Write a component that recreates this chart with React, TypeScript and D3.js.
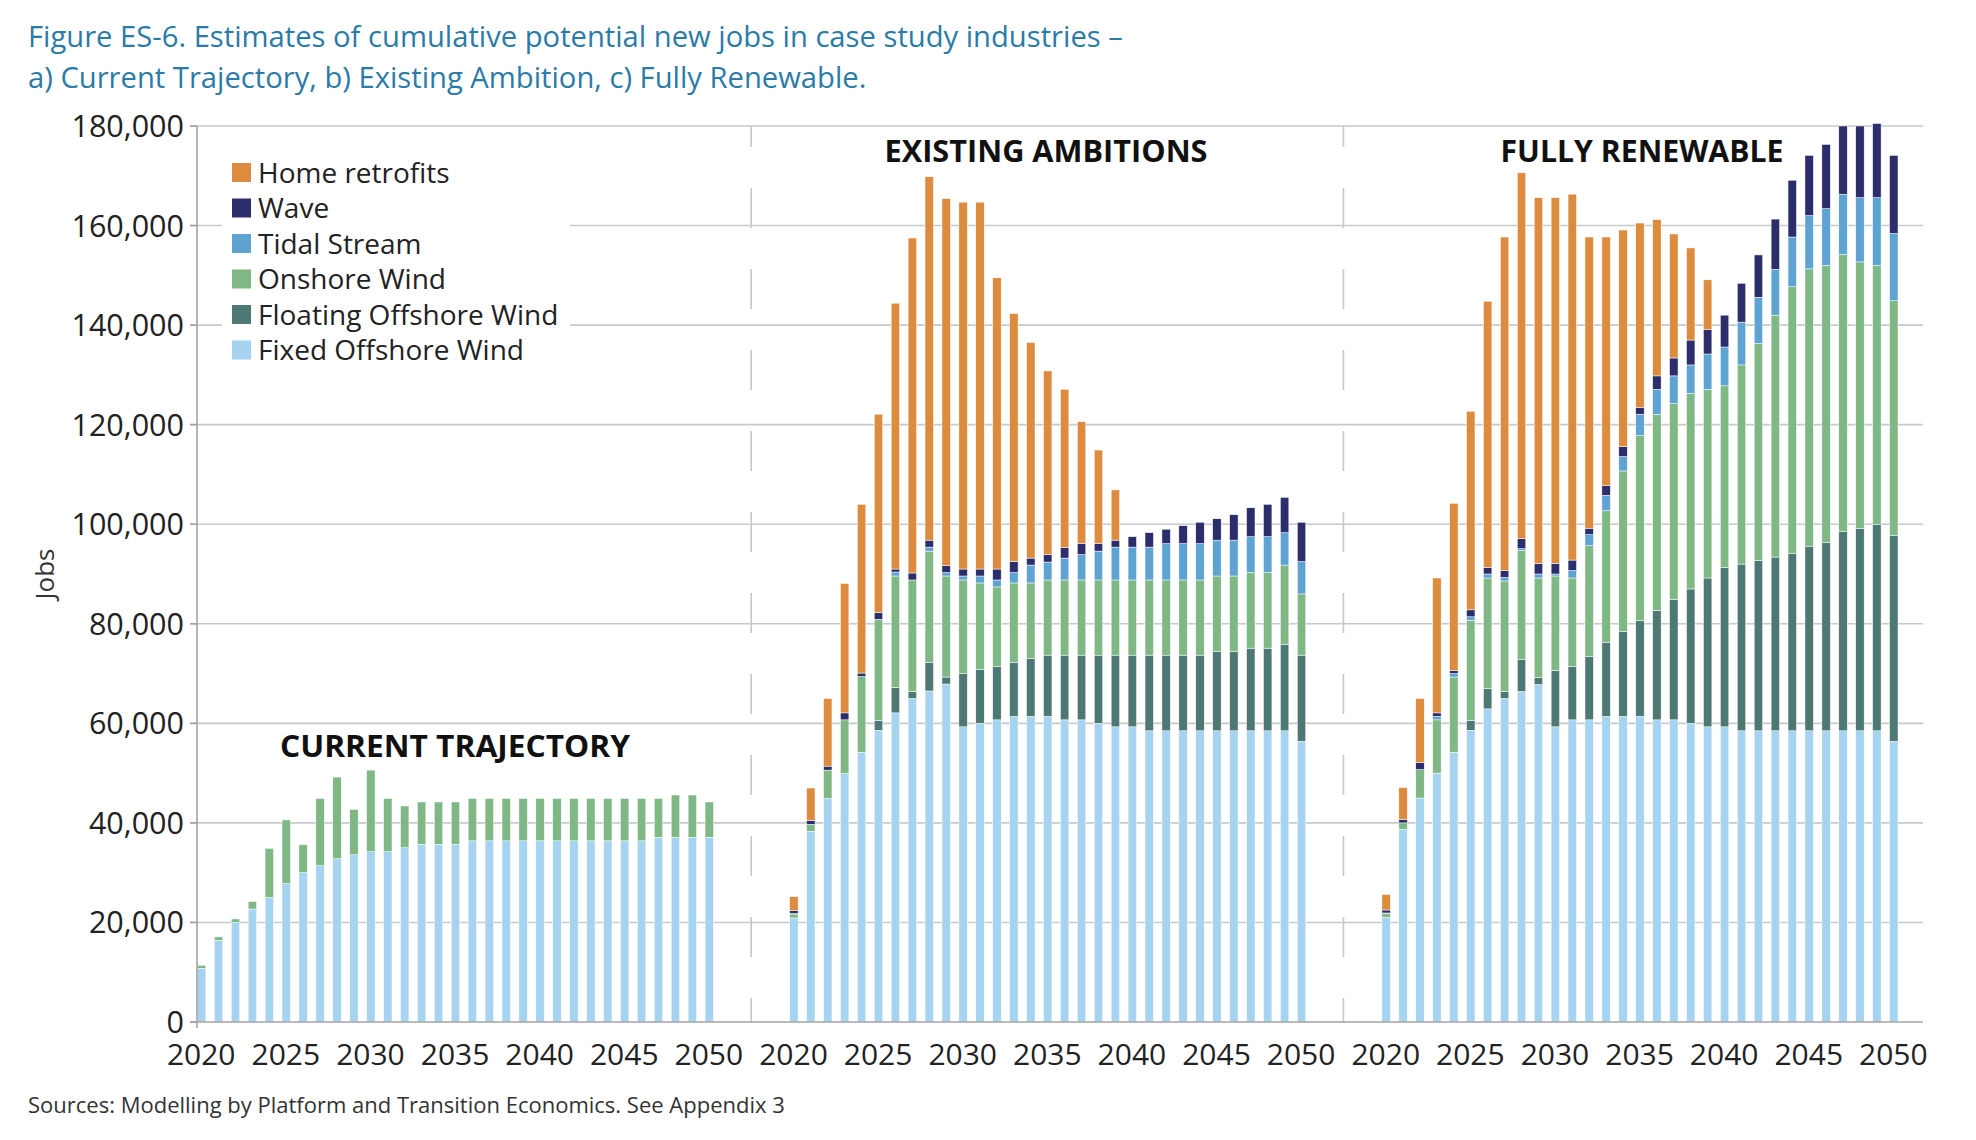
import { useEffect, useRef } from 'react';
import * as d3 from 'd3';

// Categories
const years = d3.range(2020, 2051);
const yearTicks = [2020, 2025, 2030, 2035, 2040, 2045, 2050];
const jobTicks = [0, 20000, 40000, 60000, 80000, 100000, 120000, 140000, 160000, 180000];

// Series, bottom of the stack first
const seriesNames = [
  'Fixed Offshore Wind',
  'Floating Offshore Wind',
  'Onshore Wind',
  'Tidal Stream',
  'Wave',
  'Home retrofits',
];
const seriesColors = ['#a6d3ef', '#4e7874', '#7fb785', '#5fa3d2', '#2c2e6c', '#dd8b3e'];

// a) Current trajectory
const currentFixed = [
  10800, 16400, 20000, 22700, 25000, 27800, 30000, 31400, 32800, 33600, 34200, 34200, 35000, 35700, 35700,
  35700, 36400, 36400, 36400, 36400, 36400, 36400, 36400, 36400, 36400, 36400, 36400, 37100, 37100, 37100, 37100,
];
const currentOnshore = [
  600, 700, 700, 1500, 9900, 12800, 5600, 13500, 16400, 9100, 16400, 10700, 8400, 8500, 8500,
  8500, 8500, 8500, 8500, 8500, 8500, 8500, 8500, 8500, 8500, 8500, 8500, 7800, 8500, 8500, 7100,
];

// b) Existing ambitions
const existingFixed = [
  20900, 38300, 44900, 49900, 54200, 58600, 62100, 65000, 66500, 67900, 59300, 60000, 60700, 61400, 61400,
  61400, 60700, 60700, 60000, 59300, 59300, 58500, 58500, 58500, 58500, 58500, 58500, 58500, 58500, 58500, 56400,
];
const existingFloating = [
  0, 0, 0, 0, 0, 2000, 5100, 1400, 5700, 1400, 10700, 10800, 10700, 10800, 11600,
  12300, 13000, 13000, 13700, 14400, 14400, 15200, 15200, 15200, 15200, 15900, 15900, 16600, 16600, 17400, 17300,
];
const existingOnshore = [
  800, 1400, 5700, 10800, 15200, 20300, 22400, 22400, 22400, 20300, 18800, 17400, 16000, 16000, 15200,
  15100, 15100, 15100, 15100, 15100, 15100, 15100, 15100, 15100, 15100, 15200, 15200, 15200, 15200, 15900, 12300,
];
const existingTidal = [
  100, 0, 0, 0, 0, 0, 800, 0, 800, 700, 800, 1400, 1400, 2100, 3600,
  3600, 4400, 5100, 5800, 6600, 6600, 6600, 7300, 7300, 7300, 7200, 7200, 7200, 7200, 6500, 6500,
];
const existingWave = [
  600, 800, 800, 1400, 700, 1400, 600, 1400, 1400, 1400, 1400, 1400, 2200, 2200, 1400,
  1500, 2100, 2200, 1500, 1400, 2100, 2900, 2900, 3600, 4300, 4300, 5100, 5800, 6500, 7100, 7900,
];
const existingHome = [
  2800, 6500, 13600, 26000, 33900, 39800, 53400, 67300, 73000, 73700, 73700, 73700, 58500, 49800, 43300,
  36900, 31800, 24500, 18800, 10100, 0, 0, 0, 0, 0, 0, 0, 0, 0, 0, 0,
];

// c) Fully renewable
const renewableFixed = [
  21000, 38700, 45000, 50000, 54200, 58600, 62900, 65000, 66400, 67800, 59300, 60700, 60700, 61400, 61400,
  61400, 60700, 60700, 60000, 59300, 59300, 58500, 58500, 58500, 58500, 58500, 58500, 58500, 58500, 58500, 56400,
];
const renewableFloating = [
  0, 0, 0, 0, 0, 2000, 4100, 1400, 6400, 1400, 11300, 10700, 12700, 14900, 17100,
  19200, 22000, 24200, 27000, 29900, 32000, 33500, 34200, 34900, 35600, 37100, 37800, 40000, 40600, 41400, 41300,
];
const renewableOnshore = [
  800, 1300, 5700, 10700, 15100, 20100, 22200, 22200, 21900, 20000, 19000, 17800, 22300, 26400, 32200,
  37200, 39400, 39300, 39300, 37900, 36500, 40000, 43600, 48600, 53600, 55700, 55700, 55700, 53600, 52100, 47200,
];
const renewableTidal = [
  100, 0, 0, 700, 700, 700, 800, 700, 400, 800, 400, 1500, 2200, 3100, 2900,
  4300, 5000, 5600, 5700, 7100, 7800, 8600, 9300, 9200, 10000, 10700, 11400, 12100, 12900, 13600, 13500,
];
const renewableWave = [
  600, 700, 1400, 700, 600, 1400, 1300, 1400, 2000, 2100, 2100, 2100, 1300, 2000, 2000,
  1300, 2700, 3600, 5000, 4900, 6400, 7800, 8500, 10100, 11400, 12100, 12900, 13700, 14400, 14900, 15700,
];
const renewableHome = [
  3100, 6400, 12900, 27100, 33600, 39900, 53500, 67000, 73500, 73500, 73500, 73500, 58500, 49900, 43500,
  37100, 31400, 24900, 18500, 10000, 0, 0, 0, 0, 0, 0, 0, 0, 0, 0, 0,
];

const scenarios = [
  { id: 'current', series: [currentFixed, [], currentOnshore, [], [], []] },
  {
    id: 'existing',
    series: [existingFixed, existingFloating, existingOnshore, existingTidal, existingWave, existingHome],
  },
  {
    id: 'renewable',
    series: [renewableFixed, renewableFloating, renewableOnshore, renewableTidal, renewableWave, renewableHome],
  },
];

const panelTitles = [
  { text: 'CURRENT TRAJECTORY', x: 455, y: 757, w: 350 },
  { text: 'EXISTING AMBITIONS', x: 1046, y: 162, w: 323 },
  { text: 'FULLY RENEWABLE', x: 1642, y: 162, w: 283 },
];

const FONT = '"Open Sans", sans-serif';

const App = () => {
  const chartRef = useRef<SVGSVGElement>(null);

  useEffect(() => {
    if (!chartRef.current) return;
    const svg = d3.select(chartRef.current);
    svg.selectAll('*').remove();

    const width = 1976;
    const height = 1140;
    const left = 197;
    const right = 1923;
    const top = 126;
    const bottom = 1022;

    svg.attr('width', width).attr('height', height).style('font-family', FONT);
    svg.append('rect').attr('width', width).attr('height', height).attr('fill', '#fff');

    // Table for the stack: one row per category
    const rows = scenarios.flatMap((s) =>
      years.map((yr, i) => {
        const row: Record<string, number | string> = { cat: `${s.id}-${yr}` };
        seriesNames.forEach((name, j) => {
          row[name] = s.series[j][i] ?? 0;
        });
        return row;
      }),
    );

    // Category domain with empty slots between the scenarios
    const domain: string[] = [];
    scenarios.forEach((s, si) => {
      if (si > 0) for (let g = 0; g < 4; g++) domain.push(`gap-${si}-${g}`);
      years.forEach((yr) => domain.push(`${s.id}-${yr}`));
    });
    domain.push('gap-end');

    const x = d3.scaleBand().domain(domain).range([left, right]);
    const barW = x.bandwidth() * 0.5;
    const y = d3.scaleLinear().domain([0, 180000]).range([bottom, top]);

    // Gridlines
    svg
      .append('g')
      .selectAll('line')
      .data(jobTicks.filter((d) => d > 0))
      .join('line')
      .attr('x1', left - 7)
      .attr('x2', right)
      .attr('y1', (d) => y(d))
      .attr('y2', (d) => y(d))
      .attr('stroke', '#c6caca')
      .attr('stroke-width', 1.6);

    // Legend backdrop hides the gridlines
    svg.append('rect').attr('x', 222).attr('y', 150).attr('width', 348).attr('height', 222).attr('fill', '#fff');

    // Dashed separators between scenarios
    const seps = scenarios.slice(1).map((s, i) => {
      const prev = scenarios[i];
      const a = (x(`${prev.id}-2050`) ?? 0) + barW;
      const b = x(`${s.id}-2020`) ?? 0;
      return (a + b) / 2;
    });
    svg
      .append('g')
      .selectAll('line')
      .data(seps)
      .join('line')
      .attr('x1', (d) => d)
      .attr('x2', (d) => d)
      .attr('y1', top)
      .attr('y2', bottom)
      .attr('stroke', '#c8c8c8')
      .attr('stroke-width', 1.6)
      .attr('stroke-dasharray', '40 41')
      .attr('stroke-dashoffset', 19);

    // Stacked bars
    const stacked = d3.stack<Record<string, number | string>>().keys(seriesNames)(rows);
    svg
      .append('g')
      .selectAll('g')
      .data(stacked)
      .join('g')
      .attr('fill', (_, i) => seriesColors[i])
      .selectAll('rect')
      .data((layer) => layer.filter((d) => d[1] - d[0] > 0))
      .join('rect')
      .attr('x', (d) => (x(d.data.cat as string) ?? 0) + 0.4)
      .attr('width', barW)
      .attr('y', (d) => y(d[1]))
      .attr('height', (d) => y(d[0]) - y(d[1]))
      .attr('stroke', '#fff')
      .attr('stroke-width', 0.5);

    // Axes
    const axisColor = '#a3a3a3';
    svg
      .append('line')
      .attr('x1', left)
      .attr('x2', left)
      .attr('y1', top)
      .attr('y2', bottom + 6)
      .attr('stroke', axisColor)
      .attr('stroke-width', 1.6);
    svg
      .append('line')
      .attr('x1', left - 7)
      .attr('x2', right)
      .attr('y1', bottom)
      .attr('y2', bottom)
      .attr('stroke', axisColor)
      .attr('stroke-width', 1.6);
    svg
      .append('g')
      .selectAll('line')
      .data(jobTicks)
      .join('line')
      .attr('x1', left - 7)
      .attr('x2', left)
      .attr('y1', (d) => y(d))
      .attr('y2', (d) => y(d))
      .attr('stroke', axisColor)
      .attr('stroke-width', 1.6);

    svg
      .append('g')
      .selectAll('text')
      .data(jobTicks)
      .join('text')
      .attr('x', left - 13)
      .attr('y', (d) => y(d))
      .attr('dy', '0.36em')
      .attr('text-anchor', 'end')
      .attr('font-size', 30.5)
      .attr('fill', '#222')
      .text((d) => d3.format(',')(d));

    svg
      .append('g')
      .selectAll('text')
      .data(scenarios.flatMap((s) => yearTicks.map((yr) => `${s.id}-${yr}`)))
      .join('text')
      .attr('x', (d) => (x(d) ?? 0) + barW / 2)
      .attr('y', 1065)
      .attr('text-anchor', 'middle')
      .attr('font-size', 30)
      .attr('fill', '#222')
      .text((d) => d.split('-')[1]);

    svg
      .append('text')
      .attr('transform', 'translate(45,574) rotate(-90)')
      .attr('dy', '0.36em')
      .attr('text-anchor', 'middle')
      .attr('font-size', 26)
      .attr('fill', '#333')
      .text('Jobs');

    // Scenario labels
    svg
      .append('g')
      .selectAll('text')
      .data(panelTitles)
      .join('text')
      .attr('x', (d) => d.x)
      .attr('y', (d) => d.y)
      .attr('text-anchor', 'middle')
      .attr('font-size', 31)
      .attr('font-weight', 700)
      .attr('fill', '#111')
      .attr('textLength', (d) => d.w)
      .attr('lengthAdjust', 'spacingAndGlyphs')
      .text((d) => d.text);

    // Legend, top of the stack first
    const legend = svg
      .append('g')
      .selectAll('g')
      .data(seriesNames.map((name, i) => ({ name, color: seriesColors[i] })).reverse())
      .join('g')
      .attr('transform', (_, i) => `translate(232,${163 + i * 35.5})`);
    legend.append('rect').attr('width', 19).attr('height', 19).attr('fill', (d) => d.color);
    legend
      .append('text')
      .attr('x', 26)
      .attr('y', 9.5)
      .attr('dy', '0.36em')
      .attr('font-size', 28)
      .attr('fill', '#222')
      .text((d) => d.name);

    // Title and source
    const title = svg.append('g').attr('font-size', 29.2).attr('fill', '#2b7ba8');
    title.append('text').attr('x', 28).attr('y', 47).text('Figure ES-6. Estimates of cumulative potential new jobs in case study industries –');
    title.append('text').attr('x', 28).attr('y', 88).text('a) Current Trajectory, b) Existing Ambition, c) Fully Renewable.');

    svg
      .append('text')
      .attr('x', 28)
      .attr('y', 1113)
      .attr('font-size', 22)
      .attr('fill', '#333')
      .text('Sources: Modelling by Platform and Transition Economics. See Appendix 3');
  }, []);

  return <svg ref={chartRef} style={{ position: 'absolute', left: 0, top: 0 }} />;
};

export default App;
